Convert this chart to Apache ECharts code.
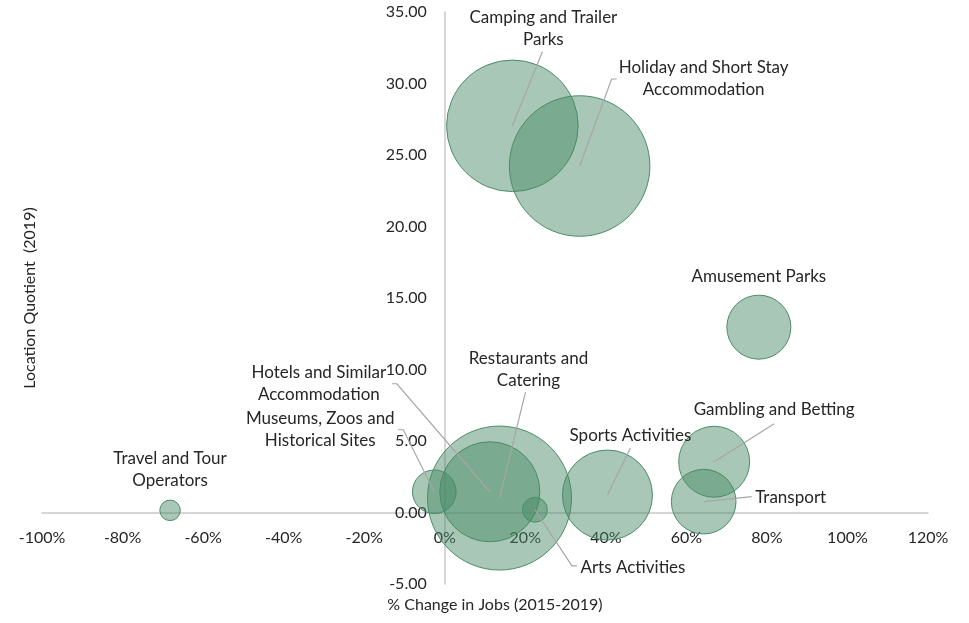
<!DOCTYPE html>
<html>
<head>
<meta charset="utf-8">
<title>Location Quotient vs Job Change</title>
<script src="https://cdn.jsdelivr.net/npm/echarts@6/dist/echarts.min.js"></script>
<style>
    html, body { margin: 0; padding: 0; background: #fff; }
    #chart { width: 969px; height: 623px; }
</style>
</head>
<body>
<div id="chart"></div>
<script>
// data
const industries = [
    'Travel and Tour Operators',
    'Museums, Zoos and Historical Sites',
    'Hotels and Similar Accommodation',
    'Restaurants and Catering',
    'Arts Activities',
    'Sports Activities',
    'Transport',
    'Gambling and Betting',
    'Amusement Parks',
    'Camping and Trailer Parks',
    'Holiday and Short Stay Accommodation'
];
// wrapped label text as shown on the chart
const labelText = [
    'Travel and Tour\nOperators',
    'Museums, Zoos and\nHistorical Sites',
    'Hotels and Similar\nAccommodation',
    'Restaurants and\nCatering',
    'Arts Activities',
    'Sports Activities',
    'Transport',
    'Gambling and Betting',
    'Amusement Parks',
    'Camping and Trailer\nParks',
    'Holiday and Short Stay\nAccommodation'
];
const jobChange = [-68.2, -2.6, 11.2, 13.6, 22.4, 40.4, 64.3, 66.9, 78.0, 16.8, 33.5];        // % change 2015-2019
const locationQuotient = [0.15, 1.45, 1.45, 1.01, 0.19, 1.22, 0.76, 3.55, 12.96, 27.04, 24.23]; // LQ 2019
const bubbleSize = [105, 475, 2500, 5185, 155, 2025, 1045, 1260, 1025, 4330, 4940];
const xTicks = { min: -100, max: 120, step: 20 };
const yTicks = { min: -5, max: 35, step: 5 };

// label placement: offset of text centre from bubble centre, leader line points (px)
const labelPlacement = [
    { dx: 0, dy: -41 },
    { dx: -114, dy: -62, line: [[-31, -62], [-36, -62]] },
    { dx: -171, dy: -108, line: [[-93, -108], [-98, -108]] },
    { dx: 29, dy: -129, line: [[26, -106]] },
    { dx: 98, dy: 58, line: [[37, 56], [42, 56]] },
    { dx: 23, dy: -60, line: [[23, -47]] },
    { dx: 87, dy: -4, line: [[48, -5]] },
    { dx: 60, dy: -52, line: [[60, -38]] },
    { dx: 0, dy: -51 },
    { dx: 31, dy: -97, line: [[30, -74]] },
    { dx: 124, dy: -87, line: [[32, -87], [37, -87]] }
];

const FONT = 'Lato, "Open Sans", sans-serif';
const TEXT_COLOR = '#262626';
const AXIS_COLOR = '#c9c9c9';
const maxSize = Math.max.apply(null, bubbleSize);
const maxDiameter = 144;

const chart = echarts.init(document.getElementById('chart'));

const seriesData = industries.map((name, i) => ({
    name: name,
    value: [jobChange[i], locationQuotient[i], bubbleSize[i]]
}));

const option = {
    animation: false,
    textStyle: { fontFamily: FONT },
    grid: { left: 42, right: 41, top: 12, bottom: 39, containLabel: false, outerBoundsMode: 'none' },
    xAxis: {
        type: 'value',
        min: xTicks.min,
        max: xTicks.max,
        interval: xTicks.step,
        name: '% Change in Jobs (2015-2019)',
        nameLocation: 'middle',
        nameGap: 84,
        nameTextStyle: { fontSize: 16, color: TEXT_COLOR, fontFamily: FONT, padding: [0, 0, 0, 20] },
        axisLine: { onZero: false, lineStyle: { color: AXIS_COLOR, width: 1.5 } },
        axisTick: { show: false },
        splitLine: { show: false },
        axisLabel: {
            margin: 17,
            fontSize: 16,
            color: TEXT_COLOR,
            fontFamily: FONT,
            formatter: v => v + '%'
        }
    },
    yAxis: {
        type: 'value',
        min: yTicks.min,
        max: yTicks.max,
        interval: yTicks.step,
        name: 'Location Quotient  (2019)',
        nameLocation: 'middle',
        nameGap: 407,
        nameTextStyle: { fontSize: 16, color: TEXT_COLOR, fontFamily: FONT },
        axisLine: { onZero: false, lineStyle: { color: AXIS_COLOR, width: 1.5 } },
        axisTick: { show: false },
        splitLine: { show: false },
        axisLabel: {
            margin: 18,
            fontSize: 16,
            color: TEXT_COLOR,
            fontFamily: FONT,
            formatter: v => v.toFixed(2)
        }
    },
    series: [{
        type: 'scatter',
        data: seriesData,
        symbol: 'circle',
        symbolSize: function (val) {
            return maxDiameter * Math.sqrt(val[2] / maxSize);
        },
        itemStyle: {
            color: 'rgba(70, 135, 100, 0.47)',
            borderColor: '#4a8c68',
            borderWidth: 1,
            opacity: 1
        },
        emphasis: { disabled: true },
        z: 3
    }]
};
chart.setOption(option);

// move both axes (line + labels + name) onto the zero crossing
function placeAxesOnZero() {
    const zero = chart.convertToPixel({ gridIndex: 0 }, [0, 0]);
    const corner = chart.convertToPixel({ gridIndex: 0 }, [xTicks.min, yTicks.min]);
    chart.setOption({
        xAxis: { offset: -(corner[1] - zero[1]) },
        yAxis: { offset: -(zero[0] - corner[0]) }
    });
}

// text labels and leader lines, placed from the bubble centres
function drawLabels() {
    const elements = [];
    industries.forEach((name, i) => {
        const c = chart.convertToPixel({ gridIndex: 0 }, [jobChange[i], locationQuotient[i]]);
        const p = labelPlacement[i];
        if (p.line) {
            const pts = [[c[0], c[1]]].concat(p.line.map(o => [c[0] + o[0], c[1] + o[1]]));
            elements.push({
                type: 'polyline',
                z: 100,
                silent: true,
                shape: { points: pts },
                style: { stroke: '#a6a6a6', lineWidth: 1.2, fill: null }
            });
        }
        elements.push({
            type: 'text',
            z: 101,
            silent: true,
            x: c[0] + p.dx,
            y: c[1] + p.dy,
            style: {
                text: labelText[i],
                fill: TEXT_COLOR,
                font: '17px ' + FONT,
                align: 'center',
                verticalAlign: 'middle',
                textAlign: 'center',
                textVerticalAlign: 'middle',
                lineHeight: 22
            }
        });
    });
    chart.setOption({ graphic: { elements: elements } });
}
placeAxesOnZero();
drawLabels();

window.addEventListener('resize', function () {
    chart.resize();
    placeAxesOnZero();
    drawLabels();
});
</script>
</body>
</html>
